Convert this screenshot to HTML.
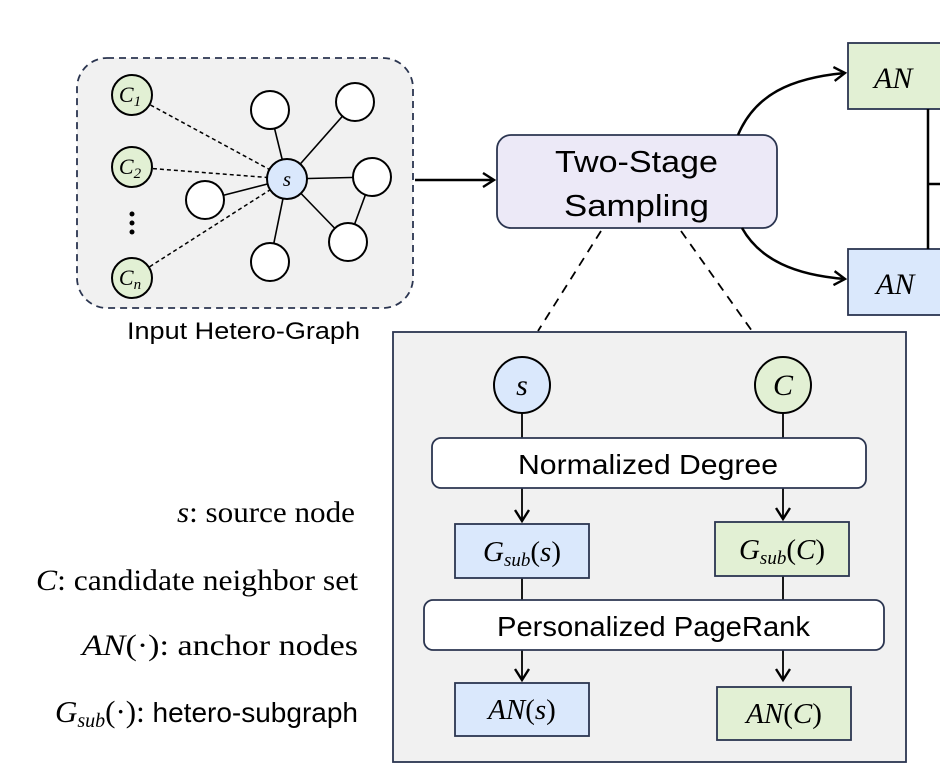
<!DOCTYPE html>
<html><head><meta charset="utf-8"><style>
html,body{margin:0;padding:0;background:#fff;}
svg{display:block;}
.sans{font-family:"Liberation Sans","DejaVu Sans",sans-serif;}
.serif{font-family:"Liberation Serif","DejaVu Serif",serif;}
.it{font-family:"Liberation Serif","DejaVu Serif",serif;font-style:italic;}
</style></head><body>
<svg width="940" height="781" viewBox="0 0 940 781" xmlns="http://www.w3.org/2000/svg">
<defs>
<marker id="ah" markerWidth="16" markerHeight="16" refX="12" refY="8" orient="auto" markerUnits="userSpaceOnUse">
<path d="M1,1 L12,8 L1,15" fill="none" stroke="#000" stroke-width="2.4"/>
</marker>
</defs>
<!-- input graph -->
<rect x="77" y="58" width="336" height="250" rx="30" fill="#f1f1f1" stroke="#2b3550" stroke-width="1.8" stroke-dasharray="7,5"/>
<g stroke="#000" stroke-width="1.5" stroke-dasharray="4,3">
<line x1="132" y1="95" x2="287" y2="179"/>
<line x1="132" y1="167" x2="287" y2="179"/>
<line x1="132" y1="278" x2="287" y2="179"/>
</g>
<g stroke="#000" stroke-width="1.6">
<line x1="287" y1="179" x2="270" y2="110"/>
<line x1="287" y1="179" x2="355" y2="102"/>
<line x1="287" y1="179" x2="372" y2="177"/>
<line x1="287" y1="179" x2="205" y2="200"/>
<line x1="287" y1="179" x2="348" y2="242"/>
<line x1="287" y1="179" x2="270" y2="262"/>
<line x1="372" y1="177" x2="348" y2="242"/>
</g>
<g fill="#fff" stroke="#000" stroke-width="2">
<circle cx="270" cy="110" r="19"/><circle cx="355" cy="102" r="19"/>
<circle cx="372" cy="177" r="19"/><circle cx="205" cy="200" r="19"/>
<circle cx="348" cy="242" r="19"/><circle cx="270" cy="262" r="19"/>
</g>
<circle cx="287" cy="179" r="20" fill="#dae8fc" stroke="#000" stroke-width="2"/>
<text x="287" y="186" text-anchor="middle" class="it" font-size="21">s</text>
<g fill="#e2f0d4" stroke="#000" stroke-width="2">
<circle cx="132" cy="95" r="20"/><circle cx="132" cy="167" r="20"/><circle cx="132" cy="278" r="20"/>
</g>
<g class="it" font-size="22" text-anchor="middle">
<text x="130" y="102">C<tspan font-size="15" dy="4">1</tspan></text>
<text x="130" y="174">C<tspan font-size="15" dy="4">2</tspan></text>
<text x="130" y="285">C<tspan font-size="15" dy="4">n</tspan></text>
</g>
<circle cx="132" cy="214" r="2.5"/><circle cx="132" cy="223" r="2.5"/><circle cx="132" cy="232" r="2.5"/>
<text x="127" y="339" class="sans" font-size="24" textLength="233" lengthAdjust="spacingAndGlyphs">Input Hetero-Graph</text>
<line x1="415" y1="180" x2="494" y2="180" stroke="#000" stroke-width="2.5" marker-end="url(#ah)"/>
<!-- two-stage -->
<rect x="497" y="135" width="280" height="93" rx="14" fill="#ece9f7" stroke="#2b3550" stroke-width="1.8"/>
<text x="555" y="172" class="sans" font-size="31" textLength="163" lengthAdjust="spacingAndGlyphs">Two-Stage</text>
<text x="564" y="216" class="sans" font-size="31" textLength="145" lengthAdjust="spacingAndGlyphs">Sampling</text>
<path d="M738,135 C755,95 790,78 845,73" fill="none" stroke="#000" stroke-width="2.5" marker-end="url(#ah)"/>
<path d="M742,228 C760,260 795,275 845,279" fill="none" stroke="#000" stroke-width="2.5" marker-end="url(#ah)"/>
<g stroke="#000" stroke-width="1.8" stroke-dasharray="9,7">
<line x1="601" y1="231" x2="538" y2="331"/>
<line x1="681" y1="231" x2="752" y2="331"/>
</g>
<!-- right boxes -->
<rect x="848" y="43" width="100" height="66" fill="#e2f0d4" stroke="#2b3550" stroke-width="1.8"/>
<rect x="848" y="249" width="100" height="66" fill="#dae8fc" stroke="#2b3550" stroke-width="1.8"/>
<line x1="928" y1="109" x2="928" y2="249" stroke="#000" stroke-width="2.5"/>
<line x1="928" y1="184" x2="940" y2="184" stroke="#000" stroke-width="2.5"/>
<text x="874" y="88" class="it" font-size="30">AN</text>
<text x="876" y="294" class="it" font-size="30">AN</text>
<!-- panel -->
<rect x="393" y="332" width="513" height="430" fill="#f1f1f1" stroke="#2b3550" stroke-width="1.8"/>
<g stroke="#000" stroke-width="1.8">
<line x1="522" y1="413" x2="522" y2="438"/><line x1="783" y1="413" x2="783" y2="438"/>
<line x1="522" y1="488" x2="522" y2="521" marker-end="url(#ah)"/>
<line x1="783" y1="488" x2="783" y2="519" marker-end="url(#ah)"/>
<line x1="522" y1="578" x2="522" y2="600"/><line x1="783" y1="576" x2="783" y2="600"/>
<line x1="522" y1="650" x2="522" y2="680" marker-end="url(#ah)"/>
<line x1="783" y1="650" x2="783" y2="680" marker-end="url(#ah)"/>
</g>
<circle cx="522" cy="385" r="28" fill="#dae8fc" stroke="#000" stroke-width="2"/>
<text x="522" y="395" text-anchor="middle" class="it" font-size="30">s</text>
<circle cx="783" cy="385" r="28" fill="#e2f0d4" stroke="#000" stroke-width="2"/>
<text x="783" y="395" text-anchor="middle" class="it" font-size="30">C</text>
<rect x="432" y="438" width="434" height="50" rx="9" fill="#fff" stroke="#2b3550" stroke-width="1.8"/>
<text x="518" y="474" class="sans" font-size="28" textLength="260" lengthAdjust="spacingAndGlyphs">Normalized Degree</text>
<rect x="424" y="600" width="460" height="50" rx="9" fill="#fff" stroke="#2b3550" stroke-width="1.8"/>
<text x="497" y="636" class="sans" font-size="28" textLength="313" lengthAdjust="spacingAndGlyphs">Personalized PageRank</text>
<rect x="455" y="524" width="134" height="54" fill="#dae8fc" stroke="#2b3550" stroke-width="1.8"/>
<rect x="715" y="522" width="134" height="54" fill="#e2f0d4" stroke="#2b3550" stroke-width="1.8"/>
<rect x="455" y="683" width="134" height="53" fill="#dae8fc" stroke="#2b3550" stroke-width="1.8"/>
<rect x="717" y="687" width="134" height="53" fill="#e2f0d4" stroke="#2b3550" stroke-width="1.8"/>
<g class="it" font-size="29" text-anchor="middle">
<text x="522" y="561">G<tspan font-size="19" dy="5">sub</tspan><tspan dy="-5" font-style="normal">(</tspan>s<tspan font-style="normal">)</tspan></text>
<text x="782" y="559">G<tspan font-size="19" dy="5">sub</tspan><tspan dy="-5" font-style="normal">(</tspan>C<tspan font-style="normal">)</tspan></text>
<text x="522" y="719">AN<tspan font-style="normal">(</tspan>s<tspan font-style="normal">)</tspan></text>
<text x="784" y="723">AN<tspan font-style="normal">(</tspan>C<tspan font-style="normal">)</tspan></text>
</g>
<!-- legend -->
<g class="serif" font-size="30">
<text x="177" y="522" textLength="178" lengthAdjust="spacingAndGlyphs"><tspan font-style="italic">s</tspan>: source node</text>
<text x="36" y="590" textLength="322" lengthAdjust="spacingAndGlyphs"><tspan font-style="italic">C</tspan>: candidate neighbor set</text>
<text x="82" y="655" textLength="276" lengthAdjust="spacingAndGlyphs"><tspan font-style="italic">AN</tspan>(·):  anchor nodes</text>
</g>
<text x="358" y="722" text-anchor="end" font-size="28"><tspan class="it" font-size="31">G</tspan><tspan class="it" font-size="20" dy="5">sub</tspan><tspan class="serif" font-size="31" dy="-5">(·):</tspan><tspan class="sans"> hetero-subgraph</tspan></text>
</svg>
</body></html>
